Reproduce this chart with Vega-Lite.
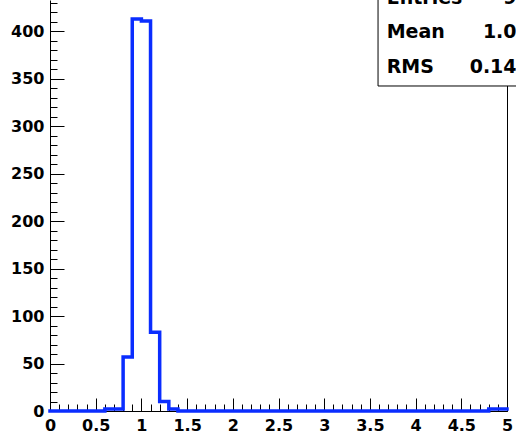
{
  "$schema": "https://vega.github.io/schema/vega-lite/v6.json",
  "width": 457,
  "height": 411,
  "autosize": {"type": "none"},
  "padding": {"left": 50, "top": 0, "right": 9, "bottom": 22},
  "background": "white",
  "config": {
    "view": {"stroke": null},
    "axis": {
      "labelFont": "DejaVu Sans",
      "labelFontWeight": "bold",
      "labelFontSize": 16,
      "labelColor": "black",
      "domainColor": "black",
      "domainWidth": 1,
      "tickColor": "black",
      "tickWidth": 1,
      "grid": false,
      "labelFlush": false,
      "labelOverlap": false
    },
    "text": {"font": "DejaVu Sans", "fontWeight": "bold", "fontSize": 19, "color": "black", "baseline": "alphabetic"}
  },
  "datasets": {
    "hist": [
      {"x": 0.0, "n": 0}, {"x": 0.1, "n": 0}, {"x": 0.2, "n": 0}, {"x": 0.3, "n": 0}, {"x": 0.4, "n": 0},
      {"x": 0.5, "n": 0}, {"x": 0.6, "n": 2}, {"x": 0.7, "n": 2}, {"x": 0.8, "n": 57}, {"x": 0.9, "n": 413},
      {"x": 1.0, "n": 411}, {"x": 1.1, "n": 83}, {"x": 1.2, "n": 10}, {"x": 1.3, "n": 2}, {"x": 1.4, "n": 0},
      {"x": 1.5, "n": 0}, {"x": 1.6, "n": 0}, {"x": 1.7, "n": 0}, {"x": 1.8, "n": 0}, {"x": 1.9, "n": 0},
      {"x": 2.0, "n": 0}, {"x": 2.1, "n": 0}, {"x": 2.2, "n": 0}, {"x": 2.3, "n": 0}, {"x": 2.4, "n": 0},
      {"x": 2.5, "n": 0}, {"x": 2.6, "n": 0}, {"x": 2.7, "n": 0}, {"x": 2.8, "n": 0}, {"x": 2.9, "n": 0},
      {"x": 3.0, "n": 0}, {"x": 3.1, "n": 0}, {"x": 3.2, "n": 0}, {"x": 3.3, "n": 0}, {"x": 3.4, "n": 0},
      {"x": 3.5, "n": 0}, {"x": 3.6, "n": 0}, {"x": 3.7, "n": 0}, {"x": 3.8, "n": 0}, {"x": 3.9, "n": 0},
      {"x": 4.0, "n": 0}, {"x": 4.1, "n": 0}, {"x": 4.2, "n": 0}, {"x": 4.3, "n": 0}, {"x": 4.4, "n": 0},
      {"x": 4.5, "n": 0}, {"x": 4.6, "n": 0}, {"x": 4.7, "n": 0}, {"x": 4.8, "n": 2}, {"x": 4.9, "n": 2},
      {"x": 5.0, "n": 2}
    ],
    "one": [{}]
  },
  "layer": [
    {
      "data": {"name": "hist"},
      "mark": {"type": "line", "interpolate": "step-after", "color": "#0a2dff", "strokeWidth": 3.5, "strokeJoin": "miter", "strokeCap": "square"},
      "encoding": {
        "x": {"field": "x", "type": "quantitative", "scale": {"domain": [0, 5], "nice": false, "zero": false},
          "axis": {"orient": "bottom", "title": null, "values": [0, 0.5, 1, 1.5, 2, 2.5, 3, 3.5, 4, 4.5, 5], "format": ".1~f", "ticks": false, "domain": true, "labelPadding": 6}},
        "y": {"field": "n", "type": "quantitative", "scale": {"domain": [0, 433], "nice": false, "zero": false},
          "axis": {"orient": "left", "title": null, "values": [0, 50, 100, 150, 200, 250, 300, 350, 400], "format": "d", "ticks": false, "domain": true, "labelPadding": 6}}
      }
    },
    {
      "data": {"name": "one"},
      "mark": {"type": "rect", "fill": "white", "stroke": "black", "strokeWidth": 1},
      "encoding": {
        "x": {"datum": 3.589, "type": "quantitative", "scale": {"domain": [0, 5], "nice": false, "zero": false},
          "axis": {"orient": "bottom", "title": null, "values": [0, 0.5, 1, 1.5, 2, 2.5, 3, 3.5, 4, 4.5, 5], "labels": false, "domain": false, "ticks": true, "tickSize": -13}},
        "x2": {"datum": 6.5},
        "y": {"datum": 342.4, "type": "quantitative", "scale": {"domain": [0, 433], "nice": false, "zero": false},
          "axis": {"orient": "left", "title": null, "values": [0, 50, 100, 150, 200, 250, 300, 350, 400], "labels": false, "domain": false, "ticks": true, "tickSize": -14}},
        "y2": {"datum": 480}
      }
    },
    {
      "data": {"name": "one"},
      "mark": {"type": "text", "align": "left"},
      "encoding": {
        "x": {"datum": 3.684, "type": "quantitative", "scale": {"domain": [0, 5], "nice": false, "zero": false},
          "axis": {"orient": "bottom", "title": null, "values": [0, 0.1, 0.2, 0.3, 0.4, 0.5, 0.6, 0.7, 0.8, 0.9, 1, 1.1, 1.2, 1.3, 1.4, 1.5, 1.6, 1.7, 1.8, 1.9, 2, 2.1, 2.2, 2.3, 2.4, 2.5, 2.6, 2.7, 2.8, 2.9, 3, 3.1, 3.2, 3.3, 3.4, 3.5, 3.6, 3.7, 3.8, 3.9, 4, 4.1, 4.2, 4.3, 4.4, 4.5, 4.6, 4.7, 4.8, 4.9, 5], "labels": false, "domain": false, "ticks": true, "tickSize": -7}},
        "y": {"datum": 428.8, "type": "quantitative", "scale": {"domain": [0, 433], "nice": false, "zero": false},
          "axis": {"orient": "left", "title": null, "values": [0, 10, 20, 30, 40, 50, 60, 70, 80, 90, 100, 110, 120, 130, 140, 150, 160, 170, 180, 190, 200, 210, 220, 230, 240, 250, 260, 270, 280, 290, 300, 310, 320, 330, 340, 350, 360, 370, 380, 390, 400, 410, 420, 430], "labels": false, "domain": false, "ticks": true, "tickSize": -7}},
        "text": {"value": "Entries"}
      }
    },
    {
      "data": {"name": "one"},
      "mark": {"type": "text", "align": "left"},
      "encoding": {
        "x": {"datum": 3.684, "type": "quantitative", "scale": {"domain": [0, 5], "nice": false, "zero": false}, "axis": null},
        "y": {"datum": 392.7, "type": "quantitative", "scale": {"domain": [0, 433], "nice": false, "zero": false},
          "axis": {"orient": "right", "title": null, "labels": false, "ticks": false, "domain": true}},
        "text": {"value": "Mean"}
      }
    },
    {
      "data": {"name": "one"},
      "mark": {"type": "text", "align": "left"},
      "encoding": {
        "x": {"datum": 3.684, "type": "quantitative", "scale": {"domain": [0, 5], "nice": false, "zero": false}, "axis": null},
        "y": {"datum": 355.8, "type": "quantitative", "scale": {"domain": [0, 433], "nice": false, "zero": false}, "axis": null},
        "text": {"value": "RMS"}
      }
    },
    {
      "data": {"name": "one"},
      "mark": {"type": "text", "align": "right"},
      "encoding": {
        "x": {"datum": 5.394, "type": "quantitative", "scale": {"domain": [0, 5], "nice": false, "zero": false}, "axis": null},
        "y": {"datum": 428.8, "type": "quantitative", "scale": {"domain": [0, 433], "nice": false, "zero": false}, "axis": null},
        "text": {"value": "984"}
      }
    },
    {
      "data": {"name": "one"},
      "mark": {"type": "text", "align": "right"},
      "encoding": {
        "x": {"datum": 5.394, "type": "quantitative", "scale": {"domain": [0, 5], "nice": false, "zero": false}, "axis": null},
        "y": {"datum": 392.7, "type": "quantitative", "scale": {"domain": [0, 433], "nice": false, "zero": false}, "axis": null},
        "text": {"value": "1.022"}
      }
    },
    {
      "data": {"name": "one"},
      "mark": {"type": "text", "align": "right"},
      "encoding": {
        "x": {"datum": 5.394, "type": "quantitative", "scale": {"domain": [0, 5], "nice": false, "zero": false}, "axis": null},
        "y": {"datum": 355.8, "type": "quantitative", "scale": {"domain": [0, 433], "nice": false, "zero": false}, "axis": null},
        "text": {"value": "0.1418"}
      }
    }
  ],
  "resolve": {"axis": {"x": "independent", "y": "independent"}}
}
